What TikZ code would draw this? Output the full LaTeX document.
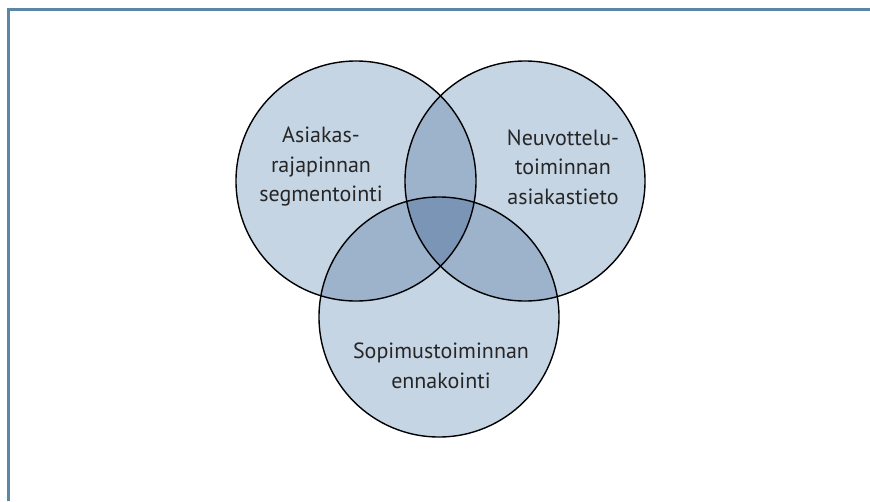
\documentclass[tikz,border=0pt]{standalone}
\usepackage{fontspec}
\setmainfont{PT Sans}
\pgfdeclarelayer{filllayer}
\pgfdeclarelayer{nodelayer}
\pgfsetlayers{filllayer,nodelayer,main}
\definecolor{setone}{HTML}{C6D5E4}
\definecolor{settwo}{HTML}{9DB2CB}
\definecolor{setthree}{HTML}{7B95B6}
\definecolor{frameblue}{HTML}{5A86A8}
\tikzstyle{set}=[circle, draw=black, line width=1.4pt, minimum size=240pt, inner sep=0pt]
\tikzstyle{setname}=[align=center, text=black!85, font=\fontsize{22}{29.5}\selectfont]

\begin{document}
\begin{tikzpicture}[x=1pt, y=-1pt]
				\useasboundingbox (0,0) rectangle (870,501);
				\draw [frameblue, line width=3pt] (870,9.5) -- (8.5,9.5) -- (8.5,501);
				\begin{pgfonlayer}{nodelayer}
					\node [style=set] (left) at (356,181) {};
					\node [style=set] (right) at (525,181) {};
					\node [style=set] (bottom) at (439,317) {};
				\end{pgfonlayer}
				\begin{pgfonlayer}{filllayer}
					\fill [setone] (left.center) circle [radius=120pt];
					\fill [setone] (right.center) circle [radius=120pt];
					\fill [setone] (bottom.center) circle [radius=120pt];
					\begin{scope}
						\clip (left.center) circle [radius=120pt];
						\fill [settwo] (right.center) circle [radius=120pt];
						\fill [settwo] (bottom.center) circle [radius=120pt];
					\end{scope}
					\begin{scope}
						\clip (right.center) circle [radius=120pt];
						\fill [settwo] (bottom.center) circle [radius=120pt];
					\end{scope}
					\begin{scope}
						\clip (left.center) circle [radius=120pt];
						\clip (right.center) circle [radius=120pt];
						\fill [setthree] (bottom.center) circle [radius=120pt];
					\end{scope}
				\end{pgfonlayer}
				\node [style=setname] (leftname) at (321,167) {Asiakas-\\rajapinnan\\segmentointi};
				\node [style=setname] (rightname) at (563,167) {Neuvottelu-\\toiminnan\\asiakastieto};
				\node [style=setname] (bottomname) at (441,366) {Sopimustoiminnan\\ennakointi};
			\end{tikzpicture}
\end{document}
